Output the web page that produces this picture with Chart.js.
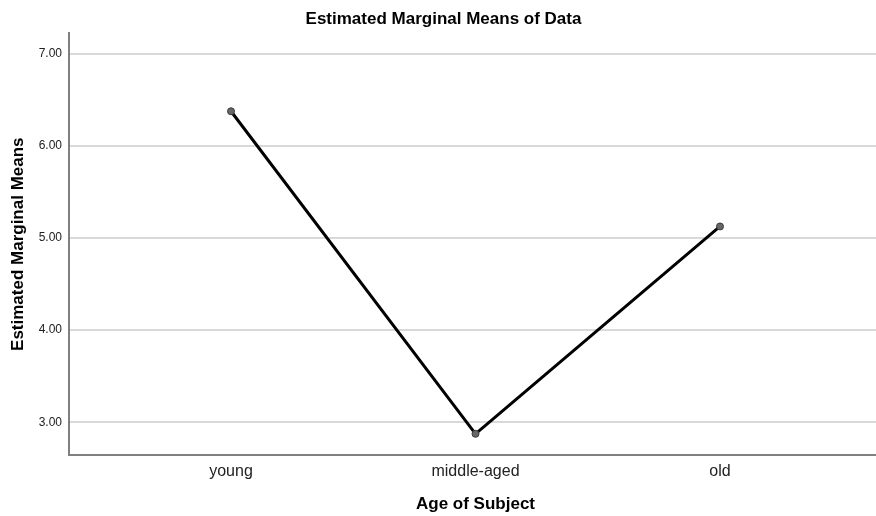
<!DOCTYPE html>
<html>
<head>
<meta charset="utf-8">
<script src="https://cdn.jsdelivr.net/npm/chart.js@4.4.1/dist/chart.umd.min.js"></script>
<style>
  html, body { margin: 0; padding: 0; background: #fff; overflow: hidden; }
  #wrap { position: relative; width: 887px; height: 516px; }
  #chart { display: block; width: 887px; height: 516px; }
</style>
</head>
<body>
<div id="wrap"><canvas id="chart" width="887" height="516"></canvas></div>
<script>
// Age groups on the horizontal axis
const categories = ['young', 'middle-aged', 'old'];
// Estimated marginal means for each age group
const means = [6.375, 2.875, 5.125];
// Values marked on the vertical axis
const yTicks = [3, 4, 5, 6, 7];

const FONT = '"Liberation Sans", Arial, sans-serif';

const points = categories.map((c, i) => ({ x: i + 1, y: means[i] }));

new Chart(document.getElementById('chart'), {
  type: 'line',
  data: {
    datasets: [{
      data: points,
      borderColor: '#000000',
      borderWidth: 3,
      tension: 0,
      pointRadius: 3.5,
      pointBackgroundColor: '#666666',
      pointBorderColor: '#3a3a3a',
      pointBorderWidth: 1
    }]
  },
  options: {
    responsive: false,
    maintainAspectRatio: false,
    animation: false,
    devicePixelRatio: 1,
    layout: { padding: 0 },
    plugins: {
      legend: { display: false },
      tooltip: { enabled: false },
      title: {
        display: true,
        text: 'Estimated Marginal Means of Data',
        color: '#000',
        font: { family: FONT, size: 17, weight: 'bold', lineHeight: 1.2 },
        padding: { top: 9, bottom: 4 }
      }
    },
    scales: {
      x: {
        type: 'linear',
        min: 0.3374,
        max: 3.6626,
        afterBuildTicks: (axis) => { axis.ticks = categories.map((c, i) => ({ value: i + 1 })); },
        afterFit: (axis) => { axis.height = 61; },
        grid: { display: false, drawTicks: false },
        border: { display: true, color: '#808080', width: 2 },
        ticks: {
          color: '#222',
          padding: 7,
          font: { family: FONT, size: 16 },
          callback: (v) => categories[Math.round(v) - 1] ?? ''
        },
        title: {
          display: true,
          text: 'Age of Subject',
          color: '#000',
          font: { family: FONT, size: 17, weight: 'bold', lineHeight: 1.2 },
          padding: { top: 0, bottom: 1 }
        }
      },
      y: {
        min: 2.645,
        max: 7.22,
        afterBuildTicks: (axis) => { axis.ticks = yTicks.map(v => ({ value: v })); },
        afterFit: (axis) => { axis.width = 69; },
        grid: { color: '#d9d9d9', lineWidth: 2, drawTicks: false },
        border: { display: true, color: '#808080', width: 2 },
        ticks: {
          color: '#222',
          padding: 7,
          font: { family: FONT, size: 12 },
          callback: (v) => v.toFixed(2)
        },
        title: {
          display: true,
          text: 'Estimated Marginal Means',
          color: '#000',
          font: { family: FONT, size: 17, weight: 'bold', lineHeight: 1.2 },
          padding: { top: 8, bottom: 0 }
        }
      }
    }
  }
});
</script>
</body>
</html>
